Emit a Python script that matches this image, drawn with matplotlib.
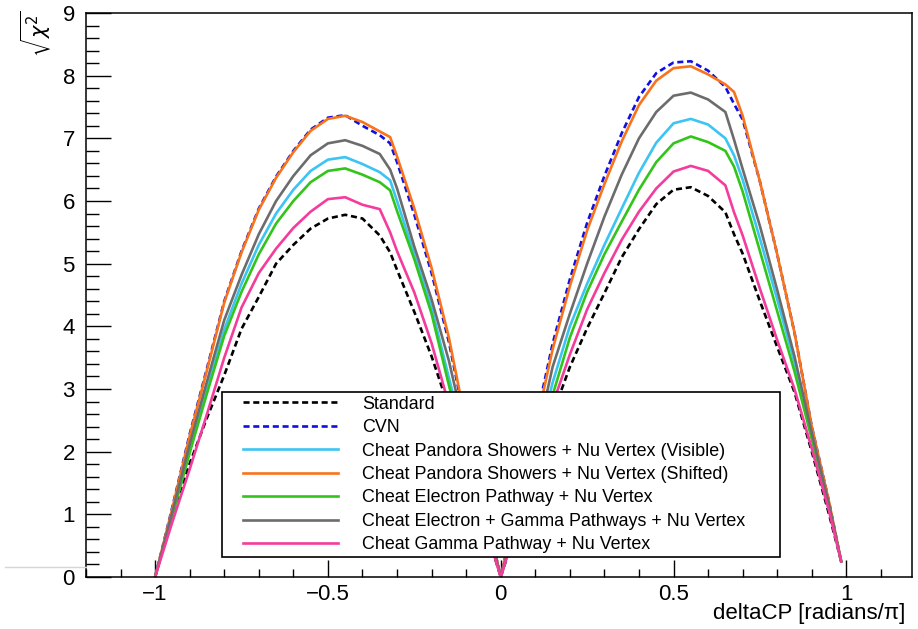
import matplotlib
matplotlib.use("Agg")
import matplotlib.pyplot as plt
from matplotlib.ticker import MultipleLocator, FuncFormatter
from matplotlib.lines import Line2D
from matplotlib.legend_handler import HandlerLine2D

plt.rcParams['font.family'] = ['Liberation Sans', 'DejaVu Sans']
plt.rcParams['mathtext.fontset'] = 'dejavusans'

# deltaCP grid (radians/pi)
dcp = [-1.0, -0.95, -0.9, -0.85, -0.8, -0.75, -0.7, -0.65, -0.6, -0.55,
       -0.5, -0.45, -0.4, -0.35, -0.32, -0.3, -0.25, -0.2, -0.15, -0.1,
       -0.05, 0.0, 0.05, 0.1, 0.15, 0.2, 0.25, 0.3, 0.35, 0.4,
       0.45, 0.5, 0.55, 0.6, 0.65, 0.675, 0.7, 0.75, 0.8, 0.85,
       0.9, 0.95, 0.985]

standard = [0.0, 1.0, 1.81, 2.54, 3.22, 3.96, 4.47, 5.0, 5.3, 5.56,
            5.72, 5.78, 5.72, 5.45, 5.18, 4.9, 4.23, 3.52, 2.7, 1.8,
            0.9, 0.0, 0.85, 1.7, 2.6, 3.35, 3.97, 4.53, 5.1, 5.55,
            5.95, 6.18, 6.22, 6.08, 5.82, 5.47, 5.16, 4.4, 3.67, 2.95,
            2.0, 1.0, 0.25]
cvn = [0.0, 1.12, 2.28, 3.33, 4.4, 5.2, 5.88, 6.39, 6.8, 7.14,
       7.33, 7.37, 7.2, 7.05, 6.92, 6.62, 5.78, 4.85, 3.75, 2.4,
       1.2, 0.0, 1.25, 2.45, 3.72, 4.75, 5.65, 6.4, 7.08, 7.66,
       8.04, 8.21, 8.23, 8.08, 7.82, 7.55, 7.3, 6.31, 5.15, 3.9,
       2.4, 1.2, 0.25]
shw_visible = [0.0, 1.0, 2.03, 3.0, 3.95, 4.68, 5.3, 5.8, 6.18, 6.48,
               6.66, 6.7, 6.59, 6.46, 6.33, 6.0, 5.15, 4.3, 3.18, 2.1,
               1.05, 0.0, 0.95, 1.95, 3.1, 4.0, 4.68, 5.3, 5.88, 6.45,
               6.93, 7.24, 7.31, 7.22, 7.0, 6.73, 6.34, 5.4, 4.43, 3.42,
               2.25, 1.15, 0.25]
shw_shifted = [0.0, 1.1, 2.25, 3.3, 4.38, 5.18, 5.86, 6.37, 6.78, 7.12,
               7.31, 7.36, 7.26, 7.11, 7.02, 6.71, 5.88, 4.93, 3.82, 2.43,
               1.2, 0.0, 1.19, 2.37, 3.63, 4.64, 5.53, 6.27, 6.95, 7.53,
               7.92, 8.12, 8.15, 8.02, 7.86, 7.74, 7.36, 6.31, 5.15, 3.9,
               2.4, 1.2, 0.25]
electron = [0.0, 0.98, 1.98, 2.93, 3.85, 4.55, 5.15, 5.64, 6.0, 6.3,
            6.48, 6.52, 6.42, 6.3, 6.17, 5.84, 5.07, 4.2, 3.06, 2.0,
            1.0, 0.0, 0.92, 1.9, 2.9, 3.82, 4.55, 5.15, 5.67, 6.18,
            6.62, 6.92, 7.03, 6.94, 6.8, 6.55, 6.15, 5.2, 4.24, 3.28,
            2.2, 1.12, 0.25]
elec_gamma = [0.0, 1.04, 2.12, 3.12, 4.1, 4.82, 5.47, 6.0, 6.4, 6.73,
              6.92, 6.97, 6.88, 6.75, 6.5, 6.2, 5.27, 4.43, 3.45, 2.25,
              1.12, 0.0, 1.0, 2.1, 3.35, 4.2, 5.0, 5.75, 6.42, 7.0,
              7.42, 7.68, 7.73, 7.62, 7.42, 6.98, 6.51, 5.6, 4.58, 3.52,
              2.3, 1.15, 0.25]
gamma = [0.0, 0.88, 1.72, 2.6, 3.5, 4.3, 4.85, 5.24, 5.57, 5.83,
         6.03, 6.06, 5.94, 5.87, 5.5, 5.2, 4.54, 3.73, 2.75, 1.8,
         0.9, 0.0, 0.9, 1.8, 2.75, 3.55, 4.27, 4.85, 5.38, 5.83,
         6.2, 6.47, 6.56, 6.48, 6.25, 5.82, 5.45, 4.6, 3.78, 3.0,
         2.05, 1.05, 0.25]

labels = ["Standard", "CVN",
          "Cheat Pandora Showers + Nu Vertex (Visible)",
          "Cheat Pandora Showers + Nu Vertex (Shifted)",
          "Cheat Electron Pathway + Nu Vertex",
          "Cheat Electron + Gamma Pathways + Nu Vertex",
          "Cheat Gamma Pathway + Nu Vertex"]
series = [standard, cvn, shw_visible, shw_shifted, electron, elec_gamma, gamma]
colors = ['#000000', '#1010e0', '#3cc4f2', '#f8731c', '#33c41c', '#6c6c6c', '#f43c9c']
dashed = [True, True, False, False, False, False, False]

fig = plt.figure(figsize=(9.18, 6.29), dpi=100)
ax = fig.add_axes([86/918, 1 - 577/629, 826/918, 564/629])

for ys, lab, col, d in zip(series, labels, colors, dashed):
    ls = (0, (2.3, 1.4)) if d else '-'
    ax.plot(dcp, ys, color=col, lw=1.9, ls=ls, label=lab)

ax.set_xlim(-1.2, 1.19)
ax.set_ylim(0, 9)
ax.xaxis.set_major_locator(MultipleLocator(0.5))
ax.xaxis.set_minor_locator(MultipleLocator(0.1))
ax.yaxis.set_major_locator(MultipleLocator(1))
ax.yaxis.set_minor_locator(MultipleLocator(0.2))
ax.xaxis.set_major_formatter(FuncFormatter(lambda v, p: ('%g' % v).replace('-', '\u2212')))
ax.yaxis.set_major_formatter(FuncFormatter(lambda v, p: '%g' % v))

ax.tick_params(axis='x', which='major', direction='in', length=12, width=1, labelsize=16, pad=5)
ax.tick_params(axis='x', which='minor', direction='in', length=6, width=1)
ax.tick_params(axis='y', which='major', direction='in', length=18, width=1, labelsize=16, pad=8)
ax.tick_params(axis='y', which='minor', direction='in', length=9, width=1)
for s in ax.spines.values():
    s.set_linewidth(1.1)

leg = ax.legend(loc='lower left', bbox_to_anchor=(0.1646, 0.0355, 0.6755, 0.2925),
                mode='expand', borderaxespad=0, fontsize=12.9, handlelength=6.26,
                handletextpad=1.34, labelspacing=0.36, borderpad=0.2,
                fancybox=False, framealpha=1, edgecolor='black',
                handler_map={Line2D: HandlerLine2D(xpad=0.95)})
leg.get_frame().set_linewidth(1.2)

fig.text(905/918, 1 - 614/629, 'deltaCP [radians/\u03c0]', ha='right', va='center', fontsize=16)
fig.text(36/918, 1 - 10/629, r'$\sqrt{\chi^2}$', rotation=90, ha='center', va='top', fontsize=15)
fig.add_artist(Line2D([5/918, 86/918], [1 - 567/629] * 2, color='#d6d6d6', lw=1))

fig.savefig('out.png', dpi=100)
